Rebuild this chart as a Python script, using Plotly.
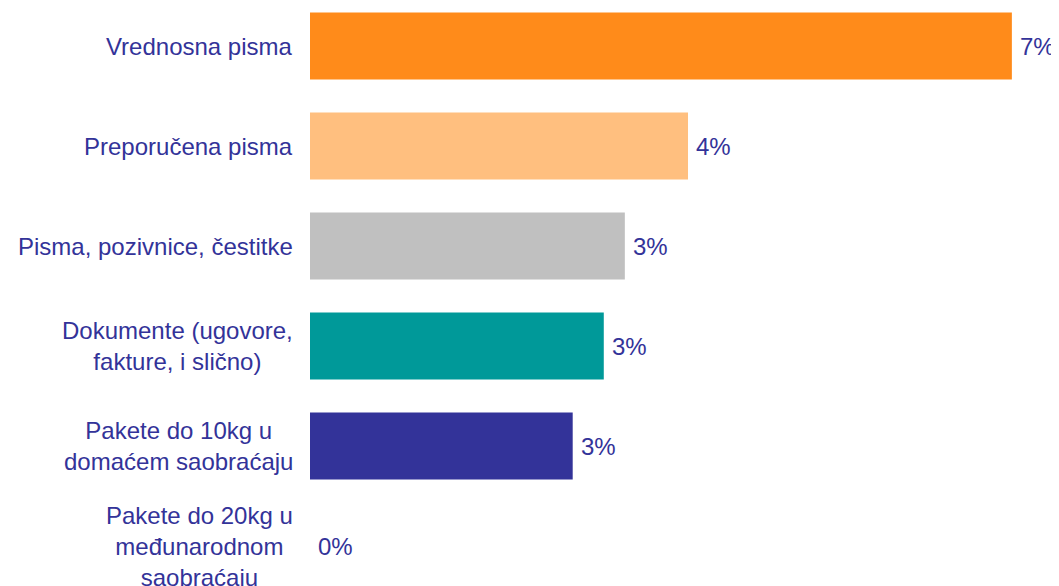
import plotly.graph_objects as go

categories = [
    "Vrednosna pisma",
    "Preporučena pisma",
    "Pisma, pozivnice, čestitke",
    "Dokumente (ugovore,<br>fakture, i slično)",
    "Pakete do 10kg u<br>domaćem saobraćaju",
    "Pakete do 20kg u<br>međunarodnom<br>saobraćaju",
]
values = [7.0, 3.77, 3.14, 2.93, 2.62, 0.0]
colors = ["#FF8B1A", "#FFBF7F", "#C0C0C0", "#009999", "#333399", "#333399"]

text_color = "#333399"
font_family = "Liberation Sans, Arial, sans-serif"
positions = list(range(len(categories)))

fig = go.Figure()
fig.add_trace(go.Bar(
    x=values,
    y=positions,
    orientation="h",
    marker=dict(color=colors, line=dict(width=0)),
    hoverinfo="skip",
    showlegend=False,
))

annotations = []
for pos, cat, v in zip(positions, categories, values):
    annotations.append(dict(
        x=0, xref="paper", y=pos, yref="y",
        text=cat, showarrow=False, xanchor="right", yanchor="middle",
        align="center", xshift=-15,
        font=dict(color=text_color, size=24, family=font_family),
    ))
    annotations.append(dict(
        x=v, xref="x", y=pos, yref="y",
        text=f"{v:.0f}%", showarrow=False, xanchor="left", yanchor="middle",
        xshift=6,
        font=dict(color=text_color, size=24, family=font_family),
    ))

fig.update_layout(
    width=1051, height=578,
    margin=dict(l=302, r=0, t=0, b=0),
    paper_bgcolor="white", plot_bgcolor="white",
    bargap=0.33,
    xaxis=dict(range=[0, 7.47], visible=False, fixedrange=True),
    yaxis=dict(range=[5.4, -0.38], visible=False, fixedrange=True),
    annotations=annotations,
    font=dict(family=font_family),
)

fig.write_html("out.html")
